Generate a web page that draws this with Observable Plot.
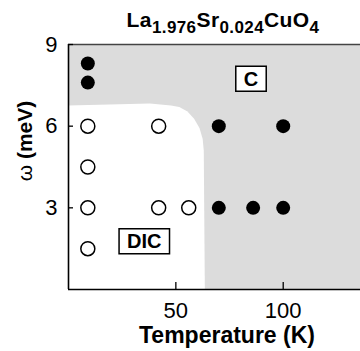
<!DOCTYPE html>
<html><head><meta charset="utf-8">
<script src="https://cdn.jsdelivr.net/npm/d3@7"></script>
<script src="https://cdn.jsdelivr.net/npm/@observablehq/plot@0.6"></script>
<style>
body{margin:0;background:#fff;}
#chart svg{font-family:"Liberation Sans",Arial,Helvetica,sans-serif;}
</style>
</head><body><div id="chart"></div>
<script>
// Open circles (DIC phase measurements)
const openT = [9, 9, 9, 9, 42, 42, 56];
const openW = [6, 4.5, 3, 1.5, 6, 3, 3];
// Filled circles (C phase measurements)
const filledT = [9, 9, 70, 100, 70, 86, 100];
const filledW = [8.3, 7.6, 6, 6, 3, 3, 3];
// Phase boundary enclosing the DIC (white) region
const boundaryT = [0, 0, 37.9, 47.7, 51.6, 55.4, 58.5, 61.0, 62.5, 63.0, 63.5];
const boundaryW = [0, 6.76, 6.83, 6.76, 6.70, 6.54, 6.27, 5.93, 5.53, 5.11, 0];
// Phase labels
const phaseNames = ["C", "DIC"];
const phaseT = [85, 35.3];
const phaseW = [7.72, 1.75];
// Ticks
const xTicks = [50, 100];
const yTicks = [3, 6, 9];
// Texts
const titleParts = [["La", false], ["1.976", true], ["Sr", false], ["0.024", true], ["CuO", false], ["4", true]];
const xLabel = "Temperature (K)";
const yLabelSymbol = "ω";
const yLabelUnit = " (meV)";

const open = openT.map((t, i) => ({T: t, w: openW[i]}));
const filled = filledT.map((t, i) => ({T: t, w: filledW[i]}));
const boundary = boundaryT.map((t, i) => ({T: t, w: boundaryW[i]}));
const phases = phaseNames.map((n, i) => ({name: n, T: phaseT[i], w: phaseW[i]}));

const W = 360, H = 351, mL = 68, mR = 0, mT = 44, mB = 62;
const innerW = W - mL - mR, innerH = H - mT - mB;

const plot = Plot.plot({
  width: W, height: H,
  marginLeft: mL, marginRight: mR, marginTop: mT, marginBottom: mB,
  x: {domain: [0, 136]},
  y: {domain: [0, 9]},
  style: {fontFamily: '"Liberation Sans",Arial,Helvetica,sans-serif', background: "white", overflow: "visible"},
  marks: [
    Plot.frame({fill: "#dcdcdc", stroke: null}),
    Plot.line(boundary, {x: "T", y: "w", fill: "white", stroke: null}),
    Plot.ruleY([9], {stroke: "#444", strokeWidth: 1.5}),
    Plot.ruleY([0], {stroke: "black", strokeWidth: 1.6}),
    Plot.ruleX([0], {stroke: "black", strokeWidth: 1.6}),
    Plot.tickX(xTicks, {insetTop: innerH - 7, stroke: "black", strokeWidth: 1.3}),
    Plot.tickY(yTicks, {insetRight: innerW - 5, stroke: "black", strokeWidth: 1.3}),
    Plot.axisX(xTicks, {tickSize: 0, tickPadding: 13, fontSize: 22, label: null, fill: "black"}),
    Plot.axisY(yTicks, {tickSize: 0, tickPadding: 11, fontSize: 22, label: null, fill: "black"}),
    Plot.dot(open, {x: "T", y: "w", r: 7, stroke: "black", strokeWidth: 1.5, fill: "white"}),
    Plot.dot(filled, {x: "T", y: "w", r: 7, fill: "black", stroke: null}),
    Plot.text(phases, {x: "T", y: "w", text: "name", fontSize: 20, fontWeight: "bold", fill: "black", className: "phase-label"})
  ]
});
document.getElementById("chart").appendChild(plot);

const svg = d3.select(plot);
// Boxes around phase labels
svg.selectAll("g.phase-label text").each(function() {
  const b = this.getBBox();
  const padX = 8, padY = 1.5;
  const tr = this.getAttribute("transform");
  const r = d3.select(this.parentNode).insert("rect", () => this)
    .attr("x", b.x - padX).attr("y", b.y - padY)
    .attr("width", b.width + 2 * padX).attr("height", b.height + 2 * padY)
    .attr("fill", "white").attr("stroke", "black").attr("stroke-width", 1.5);
  if (tr) r.attr("transform", tr);
});

// Title with subscripts
const title = svg.append("text")
  .attr("x", 223).attr("y", 27)
  .attr("text-anchor", "middle")
  .attr("font-weight", "bold")
  .attr("fill", "black")
  .style("letter-spacing", "0.4px");
let shifted = false;
titleParts.forEach(([s, sub]) => {
  const t = title.append("tspan").text(s).attr("font-size", sub ? 17 : 21);
  if (sub && !shifted) { t.attr("dy", 6); shifted = true; }
  else if (!sub && shifted) { t.attr("dy", -6); shifted = false; }
});

// X label
svg.append("text")
  .attr("x", 227).attr("y", 343)
  .attr("text-anchor", "middle")
  .attr("font-size", 23).attr("font-weight", "bold").attr("fill", "black")
  .text(xLabel);

// Y label
const yl = svg.append("text")
  .attr("transform", "translate(32,141) rotate(-90)")
  .attr("text-anchor", "middle")
  .attr("font-size", 21).attr("fill", "black");
yl.append("tspan").attr("font-weight", "normal").text(yLabelSymbol);
yl.append("tspan").attr("font-weight", "bold").text(yLabelUnit);
</script>
</body></html>
